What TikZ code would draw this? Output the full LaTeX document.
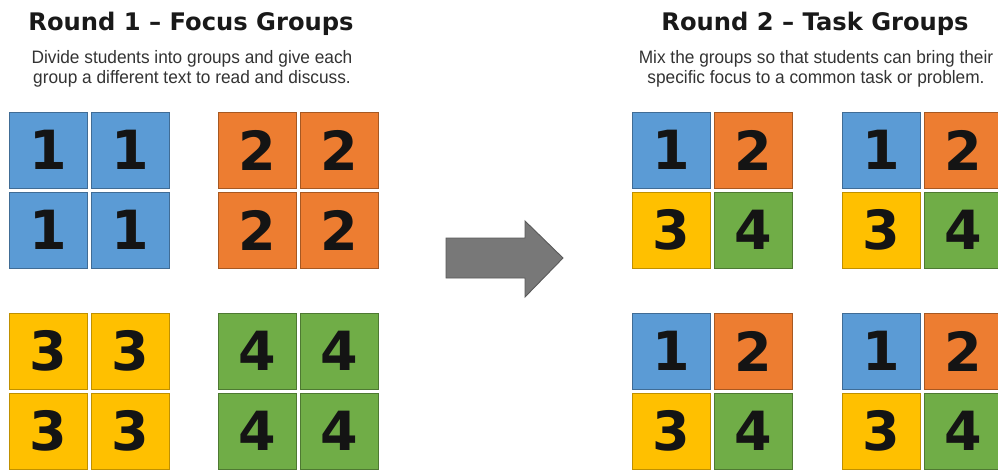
\documentclass[tikz,border=0pt]{standalone}
\usepackage{fontspec}
\setmainfont{DejaVu Sans}
\newfontfamily\subfont[FakeStretch=0.96]{Liberation Sans}
\definecolor{cblue}{HTML}{5B9BD5}
\definecolor{corange}{HTML}{ED7D31}
\definecolor{cyellow}{HTML}{FFC000}
\definecolor{cgreen}{HTML}{70AD47}
\definecolor{arrowgray}{HTML}{787878}
\definecolor{subgray}{HTML}{333333}
\newcommand\quadgroup[7]{%
  \node[tile,t#4] (#1a) at (#2+39,#3+38) {#4};
  \node[tile,t#5] (#1b) at (#2+121,#3+38) {#5};
  \node[tile,t#6] (#1c) at (#2+39,#3+118) {#6};
  \node[tile,t#7] (#1d) at (#2+121,#3+118) {#7};}
\begin{document}
\begin{tikzpicture}[x=1pt,y=-1pt,
  tile/.style={line width=0.9pt, minimum width=78pt, minimum height=76pt, inner sep=0pt,
    font=\fontsize{54}{54}\selectfont\bfseries, text=black!92},
  t1/.style={fill=cblue, draw=cblue!70!black},
  t2/.style={fill=corange, draw=corange!70!black},
  t3/.style={fill=cyellow, draw=cyellow!75!black},
  t4/.style={fill=cgreen, draw=cgreen!70!black},
  titletext/.style={anchor=base, inner sep=0pt, font=\fontsize{24.2}{27}\selectfont\bfseries, text=black!90},
  subtext/.style={anchor=base, inner sep=0pt, font=\subfont\fontsize{18}{20}\selectfont, text=subgray}]
\useasboundingbox (0,0) rectangle (998,472);
\clip (0,0) rectangle (998,472);
\fill[white] (0,0) rectangle (998,472);
% headings
\node[titletext] (title1) at (191,30) {Round 1 -- Focus Groups};
\node[subtext] (sub1a) at (192,63) {Divide students into groups and give each};
\node[subtext] (sub1b) at (192,83) {group a different text to read and discuss.};
\node[titletext] (title2) at (815,30) {Round 2 -- Task Groups};
\node[subtext] (sub2a) at (816,63) {Mix the groups so that students can bring their};
\node[subtext] (sub2b) at (816,83) {specific focus to a common task or problem.};
% round 1 groups
\quadgroup{ga}{9}{112}{1}{1}{1}{1}
\quadgroup{gb}{218}{112}{2}{2}{2}{2}
\quadgroup{gc}{9}{313}{3}{3}{3}{3}
\quadgroup{gd}{218}{313}{4}{4}{4}{4}
% round 2 groups
\quadgroup{ge}{632}{112}{1}{2}{3}{4}
\quadgroup{gf}{842}{112}{1}{2}{3}{4}
\quadgroup{gg}{632}{313}{1}{2}{3}{4}
\quadgroup{gh}{842}{313}{1}{2}{3}{4}
% arrow
\draw[fill=arrowgray, draw=arrowgray!75!black, line width=0.9pt, line join=miter]
  (446,238) -- (525,238) -- (525,221) -- (563,258) -- (525,297) -- (525,278) -- (446,278) -- cycle;
\end{tikzpicture}
\end{document}
